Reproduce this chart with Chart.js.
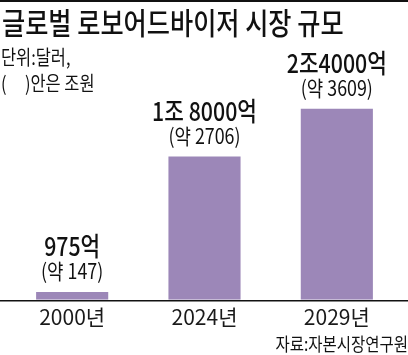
<!DOCTYPE html>
<html>
<head>
<meta charset="utf-8">
<script src="https://cdn.jsdelivr.net/npm/chart.js@4/dist/chart.umd.min.js"></script>
<style>
  html, body { margin: 0; padding: 0; background: #fff; }
  #wrap { width: 408px; height: 355px; }
</style>
</head>
<body>
<div id="wrap"><canvas id="c" width="408" height="355"></canvas></div>
<script>
const categories = ['2000년', '2024년', '2029년'];
const valuesEok = [975, 18000, 24000];          // 억 달러
const labelsUSD = ['975억', '1조 8000억', '2조4000억'];
const labelsKRW = ['(약 147)', '(약 2706)', '(약 3609)'];
const titleText = '글로벌 로보어드바이저 시장 규모';
const unitLines = ['단위:달러,', '(     )안은 조원'];
const sourceText = '자료:자본시장연구원';

const FONT = "'Noto Sans CJK KR', 'Noto Sans', sans-serif";

function drawText(ctx, text, x, y, size, weight, sx, align, color) {
  ctx.save();
  ctx.font = weight + ' ' + size + 'px ' + FONT;
  ctx.fillStyle = color || '#111';
  ctx.textBaseline = 'alphabetic';
  ctx.textAlign = 'left';
  const w = ctx.measureText(text).width * sx;
  let x0 = x;
  if (align === 'center') x0 = x - w / 2;
  else if (align === 'right') x0 = x - w;
  ctx.translate(x0, y);
  ctx.scale(sx, 1);
  ctx.fillText(text, 0, 0);
  ctx.restore();
}

const decor = {
  id: 'decor',
  afterDatasetsDraw(chart) {
    const ctx = chart.ctx;
    const W = chart.width;
    ctx.save();
    ctx.fillStyle = '#111';
    ctx.fillRect(0, 0, W, 2);
    const y0 = chart.scales.y.getPixelForValue(0);
    ctx.fillRect(0, Math.round(y0), W, 1.5);
    ctx.restore();

    drawText(ctx, titleText, 2, 34, 30, '500', 0.84, 'left', '#111');
    drawText(ctx, unitLines[0], 1, 65, 20, '400', 0.82, 'left', '#111');
    drawText(ctx, unitLines[1], 1, 91, 20, '400', 0.82, 'left', '#111');
    drawText(ctx, sourceText, 408, 351, 18, '400', 0.86, 'right', '#111');

    const meta = chart.getDatasetMeta(0);
    meta.data.forEach((bar, i) => {
      drawText(ctx, labelsUSD[i], bar.x, bar.y - 36, 26, '500', 0.82, 'center', '#111');
      drawText(ctx, labelsKRW[i], bar.x, bar.y - 13, 21, '400', 0.85, 'center', '#111');
    });
  }
};

new Chart(document.getElementById('c'), {
  type: 'bar',
  data: {
    labels: categories,
    datasets: [{
      data: valuesEok,
      backgroundColor: '#9c87b8',
      borderWidth: 0,
      barPercentage: 0.545,
      categoryPercentage: 1
    }]
  },
  options: {
    responsive: false,
    devicePixelRatio: 1,
    animation: false,
    layout: { padding: { top: 61, left: 6, right: 5, bottom: 20 } },
    plugins: { legend: { display: false }, tooltip: { enabled: false } },
    scales: {
      x: {
        grid: { display: false, drawTicks: false, tickLength: 0 },
        border: { display: false },
        ticks: { font: { family: FONT, size: 21 }, color: '#1a1a1a', padding: 5 }
      },
      y: { display: false, min: 0, max: 30000 }
    }
  },
  plugins: [decor]
});
</script>
</body>
</html>
